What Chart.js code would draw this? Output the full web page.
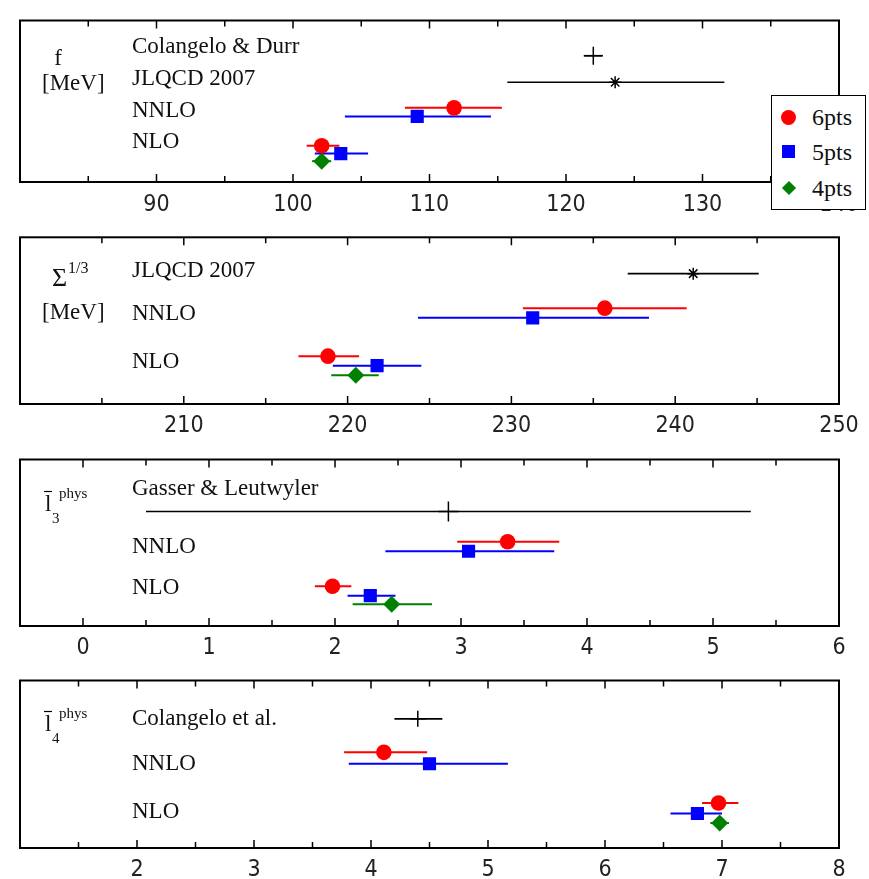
<!DOCTYPE html>
<html>
<head>
<meta charset="utf-8">
<script src="https://cdn.jsdelivr.net/npm/chart.js@4.4.0/dist/chart.umd.min.js"></script>
<style>
body { margin: 0; background: #fff; width: 869px; height: 879px; position: relative; overflow: hidden; }
canvas { position: absolute; left: 0; }
#legend { position: absolute; left: 771px; top: 95px; width: 93px; height: 113px; border: 1.5px solid #000; background: #fff; font-family: 'Liberation Serif', serif; font-size: 24px; color: #111; }
#legend div { position: absolute; left: 40px; height: 24px; line-height: 24px; }
#legend span { position: absolute; left: -30px; top: 5px; width: 14px; height: 14px; }
</style>
</head>
<body>
<canvas id="pF" width="869" height="212" style="top:10px"></canvas>
<canvas id="pS" width="869" height="216" style="top:228px"></canvas>
<canvas id="pL3" width="869" height="218" style="top:448px"></canvas>
<canvas id="pL4" width="869" height="217" style="top:671px"></canvas>
<div id="legend">
  <div style="top:9px"><span style="background:#ff0000;border-radius:50%;width:15px;height:15px;left:-31px"></span>6pts</div>
  <div style="top:44px"><span style="background:#0000ff;width:13px;height:13px"></span>5pts</div>
  <div style="top:80px"><span style="background:#008000;width:10px;height:10px;transform:rotate(45deg);left:-28px;top:7px"></span>4pts</div>
</div>
<script>
// values are [centre, low end, high end]; levels are row heights on a 0..10 scale

// f [MeV]
var fRows = ['Colangelo & Durr', 'JLQCD 2007', 'NNLO', 'NLO'];
var fRowLev = [8.35, 6.41, 4.41, 2.47];
var fRef = [[122.0, 121.3, 122.7], [123.6, 115.7, 131.6]];
var fRefLev = [7.82, 6.18];
var f6 = [[111.8, 108.2, 115.3], [102.1, 101.0, 103.4]];
var f6Lev = [4.59, 2.24];
var f5 = [[109.1, 103.8, 114.5], [103.5, 101.6, 105.5]];
var f5Lev = [4.06, 1.76];
var f4 = [[102.1, 101.4, 102.8]];
var f4Lev = [1.29];

// Sigma^(1/3) [MeV]
var sRows = ['JLQCD 2007', 'NNLO', 'NLO'];
var sRowLev = [8.0, 5.4, 2.53];
var sRef = [[241.1, 237.1, 245.1]];
var sRefLev = [7.82];
var s6 = [[235.7, 230.7, 240.7], [218.8, 217.0, 220.7]];
var s6Lev = [5.75, 2.87];
var s5 = [[231.3, 224.3, 238.4], [221.8, 219.1, 224.5]];
var s5Lev = [5.17, 2.30];
var s4 = [[220.5, 219.0, 221.9]];
var s4Lev = [1.72];

// l3 bar phys
var l3Rows = ['Gasser & Leutwyler', 'NNLO', 'NLO'];
var l3RowLev = [8.24, 4.72, 2.27];
var l3Ref = [[2.9, 0.5, 5.3]];
var l3RefLev = [6.88];
var l36 = [[3.37, 2.97, 3.78], [1.98, 1.84, 2.13]];
var l36Lev = [5.06, 2.39];
var l35 = [[3.06, 2.40, 3.74], [2.28, 2.10, 2.48]];
var l35Lev = [4.49, 1.82];
var l34 = [[2.45, 2.14, 2.77]];
var l34Lev = [1.31];

// l4 bar phys
var l4Rows = ['Colangelo et al.', 'NNLO', 'NLO'];
var l4RowLev = [7.71, 5.03, 2.17];
var l4Ref = [[4.40, 4.20, 4.61]];
var l4RefLev = [7.71];
var l46 = [[4.11, 3.77, 4.48], [6.97, 6.83, 7.14]];
var l46Lev = [5.71, 2.69];
var l45 = [[4.50, 3.81, 5.17], [6.79, 6.56, 7.00]];
var l45Lev = [5.03, 2.06];
var l44 = [[6.98, 6.90, 7.06]];
var l44Lev = [1.49];

function pts(vals, levs) {
    var out = [];
    for (var i = 0; i < vals.length; i++) {
        out.push({ x: vals[i][0], lo: vals[i][1], hi: vals[i][2], y: levs[i] });
    }
    return out;
}

function seriesSets(ref, refLev, refStyle, refRad, v6, l6, v5, l5, v4, l4) {
    return [
        { label: 'ref', data: pts(ref, refLev), pointStyle: refStyle, pointRadius: refRad,
          borderColor: '#000', backgroundColor: '#000', pointBorderWidth: 1.5, errColor: '#000', errWidth: 1.6 },
        { label: '5pts', data: pts(v5, l5), pointStyle: 'rect', pointRadius: 9.3,
          borderColor: '#0000ff', backgroundColor: '#0000ff', pointBorderWidth: 0, errColor: '#0000ff', errWidth: 2 },
        { label: '6pts', data: pts(v6, l6), pointStyle: 'circle', pointRadius: 7.8,
          borderColor: '#ff0000', backgroundColor: '#ff0000', pointBorderWidth: 0, errColor: '#ff0000', errWidth: 2 },
        { label: '4pts', data: pts(v4, l4), pointStyle: 'rectRot', pointRadius: 8.5,
          borderColor: '#008000', backgroundColor: '#008000', pointBorderWidth: 0, errColor: '#008000', errWidth: 2 }
    ];
}

var serif = "'Liberation Serif', 'Times New Roman', serif";

var panelDraw = {
    id: 'panelDraw',
    beforeDatasetsDraw: function(chart) {
        var ctx = chart.ctx, xs = chart.scales.x;
        ctx.save();
        chart.data.datasets.forEach(function(ds, di) {
            var meta = chart.getDatasetMeta(di);
            meta.data.forEach(function(el, i) {
                var d = ds.data[i];
                if (d.lo == null) return;
                ctx.strokeStyle = ds.errColor;
                ctx.lineWidth = ds.errWidth;
                ctx.beginPath();
                ctx.moveTo(xs.getPixelForValue(d.lo), el.y);
                ctx.lineTo(xs.getPixelForValue(d.hi), el.y);
                ctx.stroke();
            });
        });
        ctx.restore();
    },
    afterDraw: function(chart, args, opts) {
        var ctx = chart.ctx, a = chart.chartArea, xs = chart.scales.x, ys = chart.scales.y;
        ctx.save();
        ctx.strokeStyle = '#000';
        ctx.lineWidth = 1.5;
        xs.ticks.forEach(function(t) {
            var px = xs.getPixelForValue(t.value);
            if (px <= a.left + 1 || px >= a.right - 1) return;
            var r = t.value / opts.major;
            var len = Math.abs(r - Math.round(r)) < 1e-6 ? 8 : 6;
            ctx.beginPath();
            ctx.moveTo(px, a.bottom); ctx.lineTo(px, a.bottom - len);
            ctx.moveTo(px, a.top); ctx.lineTo(px, a.top + len);
            ctx.stroke();
        });
        ctx.lineWidth = 2;
        ctx.strokeRect(a.left, a.top, a.right - a.left, a.bottom - a.top);

        ctx.fillStyle = '#111';
        ctx.textBaseline = 'middle';
        ctx.textAlign = 'left';
        ctx.font = '23px ' + serif;
        opts.rows.forEach(function(txt, i) {
            ctx.fillText(txt, a.left + 112, ys.getPixelForValue(opts.rowLev[i]));
        });
        opts.title.forEach(function(p) {
            ctx.font = (p.size || 23) + 'px ' + serif;
            ctx.textAlign = p.align || 'left';
            ctx.fillText(p.t, p.x, a.top + p.dy);
            if (p.bar) {
                ctx.lineWidth = 1.2;
                ctx.beginPath();
                ctx.moveTo(p.x - 1, a.top + p.dy - 13);
                ctx.lineTo(p.x + 7, a.top + p.dy - 13);
                ctx.stroke();
            }
        });
        ctx.restore();
    }
};

function makePanel(id, xMin, xMax, minor, major, labelPad, datasets, rows, rowLev, title) {
    return new Chart(document.getElementById(id), {
        type: 'scatter',
        data: { datasets: datasets },
        options: {
            responsive: false,
            animation: false,
            layout: { padding: { left: 20, right: 30, top: 2, bottom: 0 } },
            plugins: {
                legend: { display: false },
                tooltip: { enabled: false },
                panelDraw: { major: major, rows: rows, rowLev: rowLev, title: title }
            },
            scales: {
                x: {
                    type: 'linear', min: xMin, max: xMax,
                    afterFit: function(s) { s.height = 40; },
                    grid: { display: false, drawTicks: false },
                    border: { display: false },
                    ticks: {
                        stepSize: minor, autoSkip: false, maxRotation: 0, padding: labelPad,
                        color: '#222',
                        font: { family: "'DejaVu Sans Condensed', 'DejaVu Sans', sans-serif", size: 23 },
                        callback: function(v) {
                            var r = v / major;
                            if (v <= xMin || Math.abs(r - Math.round(r)) > 1e-6) return '';
                            return String(Math.round(v * 100) / 100);
                        }
                    }
                },
                y: { display: false, min: 0, max: 10 }
            }
        },
        plugins: [panelDraw]
    });
}

makePanel('pF', 80, 140, 5, 10, 9,
    seriesSets(fRef, fRefLev, ['cross', 'star'], [9, 6], f6, f6Lev, f5, f5Lev, f4, f4Lev),
    fRows, fRowLev,
    [{ t: 'f', x: 58, dy: 38, align: 'center' }, { t: '[MeV]', x: 42, dy: 63 }]);

makePanel('pS', 200, 250, 5, 10, 8,
    seriesSets(sRef, sRefLev, ['star'], [6], s6, s6Lev, s5, s5Lev, s4, s4Lev),
    sRows, sRowLev,
    [{ t: '\u03A3', x: 52, dy: 42, size: 26 }, { t: '1/3', x: 68, dy: 31, size: 16 }, { t: '[MeV]', x: 42, dy: 76 }]);

makePanel('pL3', -0.5, 6, 0.5, 1, 8,
    seriesSets(l3Ref, l3RefLev, ['cross'], [10], l36, l36Lev, l35, l35Lev, l34, l34Lev),
    l3Rows, l3RowLev,
    [{ t: 'l', x: 45, dy: 45, bar: true }, { t: '3', x: 52, dy: 60, size: 15 }, { t: 'phys', x: 59, dy: 35, size: 15 }]);

makePanel('pL4', 1, 8, 0.5, 1, 8,
    seriesSets(l4Ref, l4RefLev, ['cross'], [8], l46, l46Lev, l45, l45Lev, l44, l44Lev),
    l4Rows, l4RowLev,
    [{ t: 'l', x: 45, dy: 44, bar: true }, { t: '4', x: 52, dy: 59, size: 15 }, { t: 'phys', x: 59, dy: 34, size: 15 }]);
</script>
</body>
</html>
